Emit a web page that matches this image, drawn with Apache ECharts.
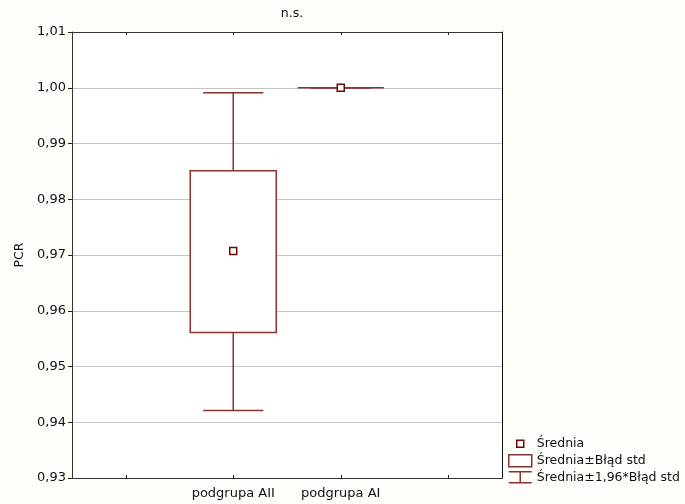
<!DOCTYPE html>
<html>
<head>
<meta charset="utf-8">
<script src="https://cdn.jsdelivr.net/npm/echarts@6/dist/echarts.min.js"></script>
<style>html,body{margin:0;padding:0;background:#fdfdf9;}#c{width:685px;height:504px;}</style>
</head>
<body>
<div id="c"></div>
<script>
const categories = ['', 'podgrupa AII', 'podgrupa AI', ''];
const groups = ['podgrupa AII', 'podgrupa AI'];
const means = [0.9707, 1.0000];
const seLow = [0.9561, 1.0000];
const seHigh = [0.9851, 1.0000];
const ciLow = [0.9421, 1.0000];
const ciHigh = [0.9991, 1.0000];
const yTicks = { min: 0.93, max: 1.01, interval: 0.01 };

const FONT = 'DejaVu Sans, Liberation Sans, Arial, sans-serif';
const LINE = '#8a3232';
const DARK = '#6e0606';

const boxData = groups.map((g, i) => [categories.indexOf(g), seLow[i], seHigh[i]]);
const whiskData = groups.map((g, i) => [categories.indexOf(g), ciLow[i], ciHigh[i], seLow[i], seHigh[i]]);
const meanData = groups.map((g, i) => [categories.indexOf(g), means[i]]);

const chart = echarts.init(document.getElementById('c'), null, { renderer: 'canvas' });

function renderBox(params, api) {
  const x = api.value(0);
  const lo = api.coord([x, api.value(1)]);
  const hi = api.coord([x, api.value(2)]);
  const band = api.size([1, 0])[0];
  const w = band * 0.8;
  return {
    type: 'rect',
    shape: { x: lo[0] - w / 2, y: hi[1], width: w, height: Math.max(lo[1] - hi[1], 0) },
    style: { fill: '#fff', stroke: LINE, lineWidth: 1.5 }
  };
}
function renderWhisk(params, api) {
  const x = api.value(0);
  const lo = api.coord([x, api.value(1)]);
  const hi = api.coord([x, api.value(2)]);
  const bl = api.coord([x, api.value(3)]);
  const bh = api.coord([x, api.value(4)]);
  const band = api.size([1, 0])[0];
  const c = band * 0.56 / 2;
  const st = { stroke: LINE, lineWidth: 1.5 };
  return {
    type: 'group',
    children: [
      { type: 'line', shape: { x1: hi[0], y1: hi[1], x2: bh[0], y2: bh[1] }, style: st },
      { type: 'line', shape: { x1: lo[0], y1: lo[1], x2: bl[0], y2: bl[1] }, style: st },
      { type: 'line', shape: { x1: hi[0] - c, y1: hi[1], x2: hi[0] + c, y2: hi[1] }, style: st },
      { type: 'line', shape: { x1: lo[0] - c, y1: lo[1], x2: lo[0] + c, y2: lo[1] }, style: st }
    ]
  };
}

const option = {
  backgroundColor: '#fdfdf9',
  animation: false,
  textStyle: { fontFamily: FONT },
  title: {
    text: 'n.s.', left: 287, textAlign: 'center', top: 2,
    textStyle: { fontSize: 12.5, fontWeight: 'normal', color: '#111', fontFamily: FONT }
  },
  legend: {
    orient: 'vertical', left: 503, top: 432,
    itemWidth: 23, itemHeight: 12, itemGap: 3.4,
    selectedMode: false,
    textStyle: { fontSize: 12.5, lineHeight: 12, color: '#111', fontFamily: FONT },
    data: [
      { name: 'Średnia', icon: 'path://M0,0M23,12M8,2.5h7v7h-7z',
        itemStyle: { color: '#fff', borderColor: DARK, borderWidth: 1.5 } },
      { name: 'Średnia±Błąd std', icon: 'rect',
        itemStyle: { color: '#fff', borderColor: LINE, borderWidth: 1.5 } },
      { name: 'Średnia±1,96*Błąd std', icon: 'path://M0,0h23M11.5,0v11M0,11h23',
        itemStyle: { color: 'transparent', borderColor: LINE, borderWidth: 1.5 } }
    ]
  },
  grid: { left: 72, right: 183, top: 32, bottom: 26, show: true, backgroundColor: '#fff', borderWidth: 0 },
  xAxis: [
    {
      type: 'category', data: categories, boundaryGap: true, position: 'bottom',
      axisLine: { lineStyle: { color: '#333', width: 1 } },
      axisTick: { show: true, inside: true, length: 3, alignWithLabel: true, interval: 0, lineStyle: { color: '#222' } },
      axisLabel: { interval: 0, fontSize: 13, color: '#111', margin: 9, fontFamily: FONT },
      splitLine: { show: false }
    },
    {
      type: 'category', data: categories, boundaryGap: true, position: 'top',
      axisLine: { lineStyle: { color: '#333', width: 1 } },
      axisTick: { show: true, inside: true, length: 3, alignWithLabel: true, interval: 0, lineStyle: { color: '#222' } },
      axisLabel: { show: false },
      splitLine: { show: false }
    }
  ],
  yAxis: [
    {
      type: 'value', min: yTicks.min, max: yTicks.max, interval: yTicks.interval, position: 'left',
      name: 'PCR', nameLocation: 'middle', nameGap: 45, nameRotate: 90,
      nameTextStyle: { fontSize: 12.5, color: '#111', fontFamily: FONT },
      axisLine: { show: true, lineStyle: { color: '#333', width: 1 } },
      axisTick: { show: true, length: 4, lineStyle: { color: '#222' } },
      axisLabel: { fontSize: 13, color: '#111', margin: 6, fontFamily: FONT,
        formatter: v => v.toFixed(2).replace('.', ',') },
      splitLine: { show: true, lineStyle: { color: '#c4c4c4', width: 1 } }
    },
    {
      type: 'value', min: yTicks.min, max: yTicks.max, interval: yTicks.interval, position: 'right',
      axisLine: { show: true, lineStyle: { color: '#111', width: 1 } },
      axisTick: { show: false }, axisLabel: { show: false }, splitLine: { show: false }
    }
  ],
  series: [
    { name: 'Średnia±1,96*Błąd std', type: 'custom', renderItem: renderWhisk, data: whiskData,
      itemStyle: { color: LINE }, z: 2 },
    { name: 'Średnia±Błąd std', type: 'custom', renderItem: renderBox, data: boxData,
      itemStyle: { color: LINE }, z: 3 },
    { name: 'Średnia', type: 'scatter', data: meanData, symbol: 'rect', symbolSize: 7,
      itemStyle: { color: '#fff', borderColor: DARK, borderWidth: 1.5, opacity: 1 }, z: 5 }
  ]
};
chart.setOption(option);
</script>
</body>
</html>
